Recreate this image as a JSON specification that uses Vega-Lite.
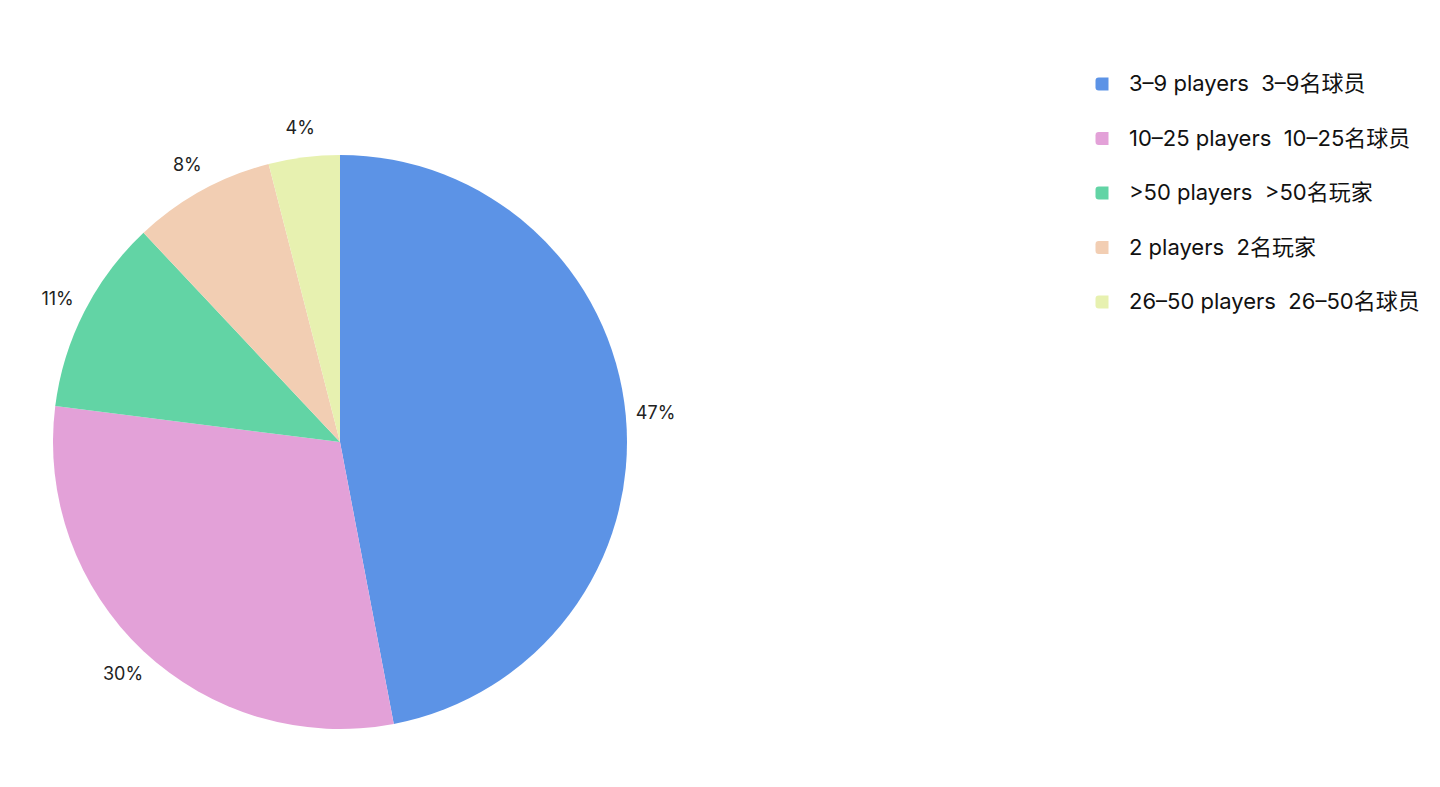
{
  "$schema": "https://vega.github.io/schema/vega-lite/v6.json",
  "width": 680,
  "height": 692,
  "padding": {"top": 73, "left": 0, "right": 0, "bottom": 0},
  "autosize": {"type": "pad"},
  "background": "white",
  "config": {"view": {"stroke": null}, "font": "Inter, Noto Sans CJK SC"},
  "data": {
    "values": [
      {"group": "3–9 players\u00a0\u00a03–9名球员", "share": 0.47, "order": 1},
      {"group": "10–25 players\u00a0\u00a010–25名球员", "share": 0.30, "order": 2},
      {"group": ">50 players\u00a0\u00a0>50名玩家", "share": 0.11, "order": 3},
      {"group": "2 players\u00a0\u00a02名玩家", "share": 0.08, "order": 4},
      {"group": "26–50 players\u00a0\u00a026–50名球员", "share": 0.04, "order": 5}
    ]
  },
  "encoding": {
    "theta": {"field": "share", "type": "quantitative", "stack": true},
    "order": {"field": "order", "type": "quantitative"},
    "color": {
      "field": "group",
      "type": "nominal",
      "sort": null,
      "scale": {
        "domain": ["3–9 players\u00a0\u00a03–9名球员", "10–25 players\u00a0\u00a010–25名球员", ">50 players\u00a0\u00a0>50名玩家", "2 players\u00a0\u00a02名玩家", "26–50 players\u00a0\u00a026–50名球员"],
        "range": ["#5c93e6", "#e3a1d8", "#62d4a5", "#f2ceb3", "#e7f1b0"]
      },
      "legend": {
        "title": null,
        "orient": "none",
        "legendX": 1091,
        "legendY": -23,
        "labelFontSize": 22,
        "labelFont": "Inter, Noto Sans CJK SC",
        "labelColor": "#111111",
        "labelOffset": 16,
        "labelLimit": 400,
        "rowPadding": 32.5,
        "symbolSize": 169,
        "symbolType": "M -1 -0.5 Q -1 -1 -0.5 -1 L 1 -1 L 1 1 L -0.5 1 Q -1 1 -1 0.5 Z",
        "symbolStrokeWidth": 0
      }
    }
  },
  "layer": [
    {"mark": {"type": "arc", "outerRadius": 287}},
    {
      "mark": {"type": "text", "radius": 317, "dy": 2, "fontSize": 18, "color": "#222222", "font": "Inter"},
      "encoding": {
        "text": {"field": "share", "type": "quantitative", "format": ".0%"},
        "color": {"value": "#222222"}
      }
    }
  ]
}
